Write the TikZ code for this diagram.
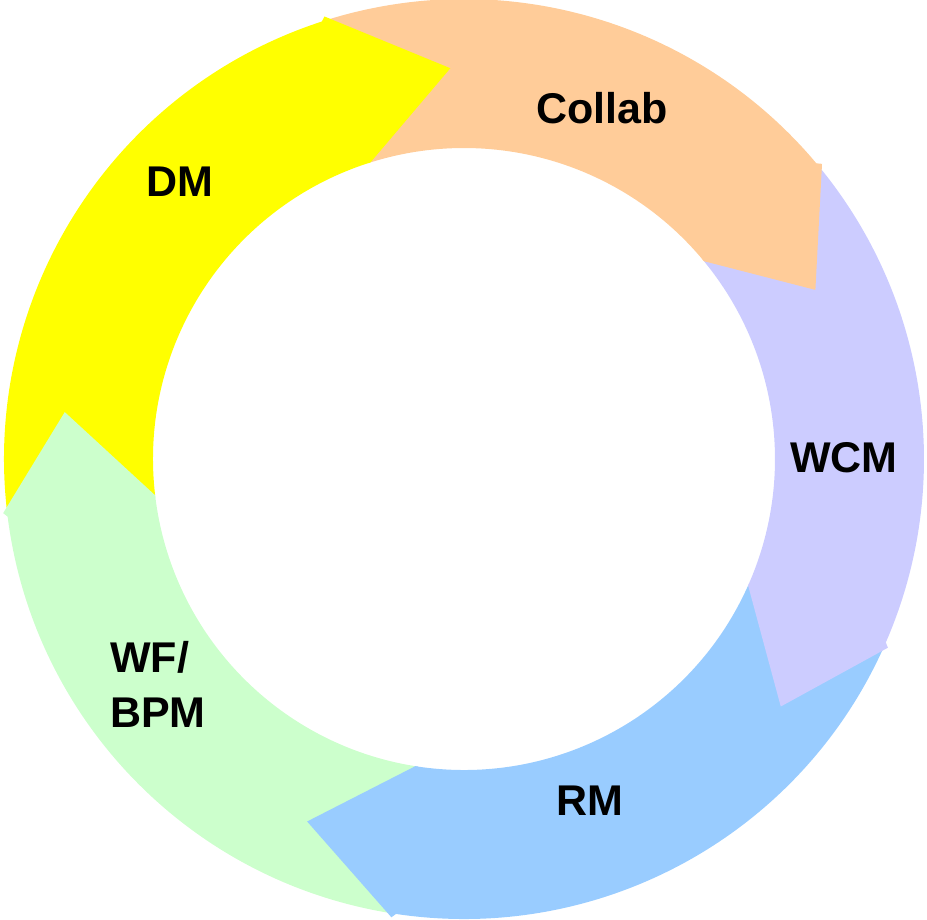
\documentclass[tikz,border=0pt]{standalone}
\usepackage{fontspec}
\setmainfont{Liberation Sans}
\definecolor{dmcol}{HTML}{FFFF00}
\definecolor{collabcol}{HTML}{FFCC99}
\definecolor{wcmcol}{HTML}{CCCCFF}
\definecolor{rmcol}{HTML}{99CCFF}
\definecolor{wfcol}{HTML}{CCFFCC}

\begin{document}
\begin{tikzpicture}[x=1pt,y=1pt,
	ringtext/.style={font=\bfseries\fontsize{43}{55}\selectfont,inner sep=0pt}]
	\useasboundingbox (-464,-460) rectangle (463,459);
	% ring bodies
	\foreach \col/\from/\to in {dmcol/186.7/107.5, collabcol/107.5/39.5, wcmcol/39.5/-24, rmcol/-24/-99, wfcol/-99/-173.3}
		\fill[\col] (\from:460) arc[start angle=\from,end angle=\to,radius=460]
		-- (\to:311) arc[start angle=\to,end angle=\from,radius=311] -- cycle;
	% arrow heads
	\foreach \col/\base/\tip/\tr in {dmcol/107.5/92/391, collabcol/39.5/25.7/390, wcmcol/-24/-38/402, rmcol/-99/-113.4/395, wfcol/-173.3/-186.7/402}
		\fill[\col] (\base+0.5:460) -- (\base:464) -- (\tip:\tr) -- (\base:311) -- (\base+0.5:311) -- cycle;
	\node[ringtext,anchor=base] (collab) at (138,335) {Collab};
	\node[ringtext,anchor=base] (dm) at (-284,262) {DM};
	\node[ringtext,anchor=base] (wcm) at (380,-13) {WCM};
	\node[ringtext,anchor=base] (rm) at (126,-356) {RM};
	\node[ringtext,anchor=base west,align=left] (wfbpm) at (-354,-268) {WF/\\BPM};
\end{tikzpicture}
\end{document}
